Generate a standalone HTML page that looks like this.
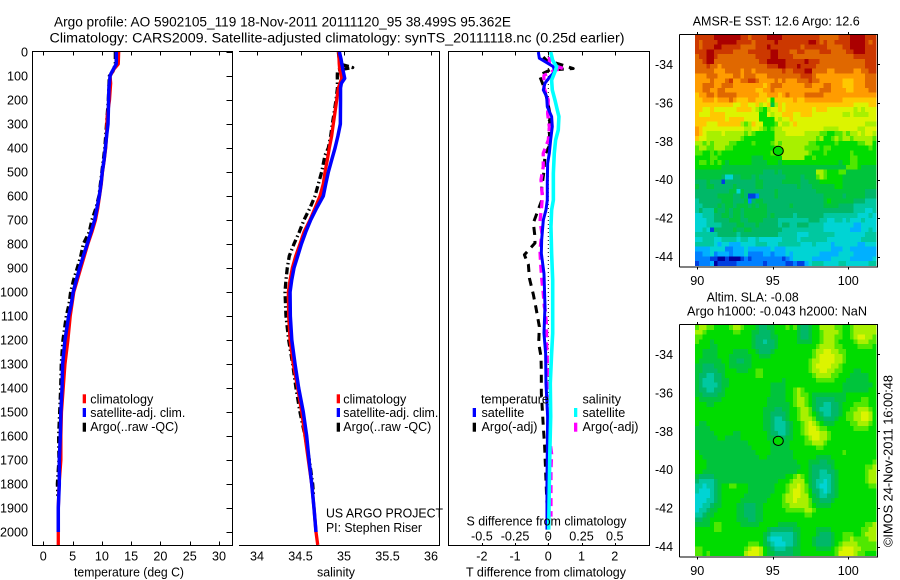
<!DOCTYPE html>
<html>
<head>
<meta charset="utf-8">
<title>Argo profile 5902105_119</title>
<style>
html,body{margin:0;padding:0;background:#fff;}
svg{display:block;font-family:"Liberation Sans",sans-serif;fill:#000;}
text{font-size:12.6px;}
.t{font-size:13.4px;}
</style>
</head>
<body>
<svg id="chart" width="900" height="580" viewBox="0 0 900 580" xmlns="http://www.w3.org/2000/svg">
<g id="maps"></g>
<g id="plots"></g>
<g id="labels">
<text class="t" x="54" y="26.5" textLength="457" lengthAdjust="spacingAndGlyphs">Argo profile: AO 5902105_119 18-Nov-2011 20111120_95 38.499S 95.362E</text>
<text class="t" x="49.5" y="42.5" textLength="575" lengthAdjust="spacingAndGlyphs">Climatology: CARS2009. Satellite-adjusted climatology: synTS_20111118.nc (0.25d earlier)</text>

<text x="74" y="576.5" textLength="110" lengthAdjust="spacingAndGlyphs">temperature (deg C)</text>
<text x="317" y="576.5" textLength="38" lengthAdjust="spacingAndGlyphs">salinity</text>
<text x="466" y="576.5" textLength="160" lengthAdjust="spacingAndGlyphs">T difference from climatology</text>
<text x="466.5" y="525.5" textLength="160" lengthAdjust="spacingAndGlyphs">S difference from climatology</text>

<rect x="82.7" y="394.3" width="3.3" height="9" fill="#ff0000"/>
<rect x="82.7" y="408" width="3.3" height="9" fill="#0000ff"/>
<rect x="82.7" y="422.7" width="3.3" height="9" fill="#000"/>
<text x="90.3" y="403.5">climatology</text>
<text x="90.3" y="417" textLength="95" lengthAdjust="spacingAndGlyphs">satellite-adj. clim.</text>
<text x="90.3" y="431" textLength="88" lengthAdjust="spacingAndGlyphs">Argo(..raw -QC)</text>

<rect x="336.7" y="394.3" width="3.3" height="9" fill="#ff0000"/>
<rect x="336.7" y="408" width="3.3" height="9" fill="#0000ff"/>
<rect x="336.7" y="422.7" width="3.3" height="9" fill="#000"/>
<text x="343.3" y="403.5">climatology</text>
<text x="343.3" y="417" textLength="95" lengthAdjust="spacingAndGlyphs">satellite-adj. clim.</text>
<text x="343.3" y="431" textLength="88" lengthAdjust="spacingAndGlyphs">Argo(..raw -QC)</text>

<text x="326" y="517.5" textLength="117" lengthAdjust="spacingAndGlyphs">US ARGO PROJECT</text>
<text x="326" y="532" textLength="96" lengthAdjust="spacingAndGlyphs">PI: Stephen Riser</text>

<text x="481" y="403.5">temperature</text>
<text x="481.5" y="417">satellite</text>
<text x="481.5" y="431">Argo(-adj)</text>
<rect x="472.7" y="408" width="3.3" height="9" fill="#0000ff"/>
<rect x="472.7" y="422.7" width="3.3" height="9" fill="#000"/>
<text x="582.5" y="403.5">salinity</text>
<text x="582.5" y="417">satellite</text>
<text x="582.5" y="431">Argo(-adj)</text>
<rect x="574" y="408" width="3.3" height="9" fill="#00ffff"/>
<rect x="574" y="422.7" width="3.3" height="9" fill="#ff00ff"/>

<text x="692.7" y="25.5" textLength="167" lengthAdjust="spacingAndGlyphs">AMSR-E SST: 12.6 Argo: 12.6</text>
<text x="706.7" y="301.5" textLength="92" lengthAdjust="spacingAndGlyphs">Altim. SLA: -0.08</text>
<text x="687" y="315.5" textLength="180" lengthAdjust="spacingAndGlyphs">Argo h1000: -0.043 h2000: NaN</text>
<text transform="translate(892.5 547) rotate(-90)" textLength="172" lengthAdjust="spacingAndGlyphs">©IMOS 24-Nov-2011 16:00:48</text>
</g>
</svg>
<script>
// ---------- profile data ----------
const depthTicks = [0,100,200,300,400,500,600,700,800,900,1000,1100,1200,1300,1400,1500,1600,1700,1800,1900,2000];
const tempTicks = [0,5,10,15,20,25,30];
const salTicks = [34,34.5,35,35.5,36];
const salTickLabels = ['34','34.5','35','35.5','36'];
const tDiffTicks = [-2,-1,0,1,2];
const sDiffTicks = [-0.5,-0.25,0,0.25,0.5];
const sDiffTickLabels = ['-0.5','-0.25','0','0.25','0.5'];

const tempClimDepth = [0,50,70,100,130,200,270,350,400,450,500,550,600,650,700,750,800,850,900,950,1000,1100,1200,1300,1400,1500,1600,1700,1800,1900,2054];
const tempClimValues = [12.87,12.8,12.1,11.4,11.5,11.3,10.9,10.8,10.65,10.4,10.1,9.9,9.6,9.3,8.9,8.3,7.6,7.0,6.4,5.8,5.2,4.6,4.2,3.7,3.4,3.1,3.0,3.0,2.7,2.56,2.56];
const tempSatDepth = [0,50,70,90,100,150,200,300,350,400,450,500,550,600,650,700,750,800,850,900,950,1000,1050,1100,1200,1300,1400,1500,1600,1700,1800,1900,2000];
const tempSatValues = [12.47,12.45,12.0,11.56,11.4,11.2,11.15,11.05,10.8,10.6,10.37,10.07,9.85,9.56,9.17,8.77,8.14,7.5,6.83,6.2,5.64,5.1,4.78,4.33,3.7,3.3,3.2,3.0,2.9,2.73,2.73,2.56,2.56];
const tempArgoDepth = [0,50,80,100,200,300,400,500,600,650,700,750,800,850,900,950,1000,1050,1100,1200,1300,1400,1500,1600,1700,1800,1850];
const tempArgoValues = [12.3,12.3,11.9,11.27,11.1,10.8,10.5,10.0,9.5,9.0,8.3,7.85,6.83,6.4,5.8,5.17,4.67,4.4,3.93,3.36,3.07,2.97,2.8,2.62,2.67,2.4,2.5];

const salClimDepth = [0,50,70,110,150,200,250,300,350,400,450,500,550,600,650,700,750,800,850,900,950,1000,1100,1200,1300,1400,1500,1600,1700,1800,1900,2000,2054];
const salClimValues = [34.94,34.945,34.95,34.973,34.935,34.916,34.897,34.877,34.858,34.831,34.808,34.782,34.762,34.724,34.667,34.609,34.54,34.494,34.445,34.406,34.38,34.36,34.364,34.38,34.417,34.468,34.514,34.552,34.59,34.629,34.655,34.678,34.698];
const salSatDepth = [0,30,70,110,130,150,200,300,350,400,450,500,550,600,650,700,750,800,850,900,950,1000,1100,1200,1300,1400,1500,1600,1700,1800,1900,2000];
const salSatValues = [34.947,34.966,34.985,35.008,34.97,34.96,34.96,34.958,34.93,34.897,34.858,34.82,34.79,34.762,34.686,34.617,34.56,34.51,34.468,34.425,34.399,34.38,34.383,34.4,34.437,34.479,34.532,34.571,34.598,34.629,34.655,34.678];
const salArgoDepth = [0,30,50,65,75,100,150,200,250,300,350,400,430,500,550,600,650,700,750,800,850,900,950,1000,1100,1200,1300,1400,1500,1600,1700,1800,1850];
const salArgoValues = [34.935,34.945,34.95,35.1,34.925,34.923,34.925,34.908,34.888,34.866,34.847,34.82,34.782,34.743,34.705,34.667,34.609,34.54,34.486,34.425,34.371,34.348,34.333,34.322,34.333,34.364,34.41,34.448,34.494,34.552,34.601,34.64,34.65];

const diffTSatDepth = [0,26,40,61,82,103,130,158,186,228,269,311,367,422,464,547,617,658,700,783,839,923,1061,1172,1256,1381,1519,1658,1797,1990];
const diffTSatValues = [-0.30,-0.27,-0.10,0.15,0.2,0.05,-0.10,-0.15,-0.05,-0.03,0.10,0.12,0.07,0.03,-0.02,-0.03,-0.03,-0.07,-0.15,-0.2,-0.21,-0.13,-0.10,-0.13,-0.08,-0.07,-0.02,-0.03,-0.04,-0.04];
const diffSSatDepth = [0,35,61,82,117,158,200,242,269,325,367,422,506,617,658,728,839,950,1061,1172,1256,1381,1519,1658,1797,1990];
const diffSSatValues = [0.018,0.033,0.063,0.05,0.025,0.03,0.05,0.068,0.08,0.075,0.055,0.045,0.038,0.038,0.025,0.02,0.025,0.033,0.033,0.033,0.025,0.015,0.018,0.012,0.008,0.003];
const diffTArgoDepth = [21,35,49,69,75,97,139,201,257,332,386,428,497,567,608,656,712,761,796,845,886,942,1011,1067,1144,1214,1269,1339,1422,1561,1644,1714,1783,1853,1908];
const diffTArgoValues = [-0.15,-0.05,0.3,0.75,0.05,-0.27,-0.15,-0.03,0.05,0.03,0.05,-0.1,-0.13,-0.2,-0.17,-0.3,-0.45,-0.41,-0.4,-0.72,-0.6,-0.57,-0.45,-0.37,-0.27,-0.29,-0.22,-0.21,-0.21,-0.15,-0.11,-0.09,-0.07,-0.05,-0.03];
const diffSArgoDepth = [21,49,69,75,98,146,201,257,313,367,422,478,533,603,644,706,754,825,880,942,1005,1061,1075,1144,1214,1276,1339,1408,1478,1540,1603,1675,1742,1811,1881,1936];
const diffSArgoValues = [0.008,0.008,0.113,0.05,-0.033,-0.033,0,-0.005,0.008,0,-0.038,-0.038,-0.055,-0.045,-0.05,-0.063,-0.048,-0.063,-0.058,-0.05,-0.038,-0.03,-0.023,-0.013,-0.013,-0.008,-0.005,-0.01,-0.008,0.003,0.008,0.025,0.02,0.02,0.02,0.02];

// ---------- map data (colour levels, 0 = coldest/lowest ... 16 = warmest/highest) ----------
const lonTicks = [90,95,100];
const latTicks = [-34,-36,-38,-40,-42,-44];
const latTickLabels = ['-34','-36','-38','-40','-42','-44'];
const argoLon = 95.362;
const argoLat = -38.499;
const argoSstLevel = 8;
const argoSlaLevel = 8;
const sstLevels = [
[15,15,15,15,15,16,16,16,16,16,16,16,15,15,14,15,15,15,15,16,16,16,16,15,15,15,15,15,15,15,15,15,15,14,14,14,14,14,15,15,15,16,16,16,16,15,15,15],
[15,14,15,15,15,15,16,16,16,16,16,15,15,15,15,14,15,15,15,15,15,16,15,15,15,15,15,15,15,15,16,16,15,14,15,14,14,15,15,15,15,16,16,16,16,15,14,15],
[15,14,15,15,15,16,16,15,15,15,15,15,14,14,14,14,15,15,15,16,15,15,15,15,15,15,15,15,14,15,15,15,15,15,15,14,14,14,14,15,15,16,16,16,16,15,15,15],
[15,15,15,16,16,15,15,15,15,15,14,14,14,14,15,15,15,15,15,15,16,16,15,15,15,14,14,15,15,14,14,14,14,15,15,15,14,14,14,14,15,15,16,16,16,15,15,15],
[14,15,15,16,16,15,14,14,14,14,14,14,14,14,14,14,15,15,15,15,16,16,15,15,15,15,14,14,14,14,14,14,14,14,14,14,14,14,14,14,14,14,15,15,15,15,15,15],
[14,14,15,16,16,14,14,14,14,14,14,14,14,14,14,14,14,15,15,16,16,16,16,16,15,15,15,15,15,16,15,15,15,14,14,14,14,14,14,14,14,14,14,14,14,15,15,15],
[14,14,14,15,14,14,13,14,14,14,14,14,14,14,14,14,14,14,14,15,15,15,16,16,15,15,15,16,15,15,15,15,14,14,14,14,14,14,14,14,14,14,14,14,14,15,15,15],
[14,14,14,14,14,13,13,13,14,14,14,14,13,14,14,13,14,14,14,14,14,14,14,15,14,14,15,15,15,16,16,14,14,14,14,13,13,14,14,14,14,14,13,13,14,14,15,15],
[13,13,13,14,14,14,13,13,13,13,14,14,13,14,14,14,13,13,13,14,14,14,14,14,14,14,14,14,15,15,15,14,13,13,13,13,13,13,13,13,13,13,13,13,13,14,14,14],
[13,13,13,13,14,13,13,13,14,15,13,13,14,14,15,15,14,13,13,13,13,14,13,14,13,13,13,14,14,14,15,14,14,13,13,13,13,13,13,12,12,12,13,13,13,14,14,14],
[13,13,14,14,14,13,13,14,14,14,13,13,13,13,13,13,13,13,12,13,14,14,14,13,13,13,13,13,13,14,14,13,13,13,14,14,13,13,13,12,12,12,13,13,13,14,14,14],
[13,13,14,14,13,13,14,14,13,13,13,13,13,13,13,13,12,12,13,13,14,13,13,13,13,13,13,13,13,13,13,13,13,14,14,14,13,13,13,13,12,12,13,13,13,13,14,14],
[12,13,13,14,14,13,14,14,14,14,14,13,13,13,13,13,13,12,12,13,13,13,12,13,14,13,13,13,13,14,14,14,14,14,13,13,13,13,13,13,13,13,13,13,13,13,13,13],
[12,12,13,13,13,12,13,13,13,14,13,12,12,12,13,13,12,12,12,11,8,12,12,12,12,12,13,12,12,13,13,13,13,13,13,13,13,13,13,12,12,12,12,12,12,12,12,12],
[12,12,12,12,12,12,12,12,12,12,11,11,12,12,11,11,12,10,11,12,7,10,12,11,12,12,12,12,12,12,12,12,12,12,12,12,12,12,12,12,12,12,11,11,11,11,12,12],
[12,12,11,11,12,11,11,11,11,11,11,12,12,12,12,11,10,9,8,10,11,11,12,11,12,12,12,12,12,12,12,11,12,12,12,11,11,11,11,11,11,11,10,11,10,11,11,11],
[12,11,11,11,12,12,12,12,11,11,11,11,11,11,11,11,11,8,8,11,10,11,11,12,12,12,11,11,12,12,12,11,11,11,11,11,11,11,11,10,10,11,10,10,10,10,11,11],
[12,12,12,12,12,12,12,12,11,12,12,12,12,11,11,11,11,8,8,8,8,11,10,11,11,12,11,11,11,11,11,11,11,11,11,11,11,11,11,11,11,11,11,11,11,11,11,11],
[12,12,12,11,11,11,12,12,12,12,12,12,10,9,10,12,11,11,8,8,8,9,11,10,10,11,12,11,11,11,11,11,11,11,11,11,11,11,11,11,11,11,11,11,11,10,10,10],
[13,12,11,11,11,11,11,11,11,11,11,11,11,10,10,11,11,10,9,8,9,10,10,11,11,11,11,11,11,11,11,11,11,11,10,10,10,10,11,11,11,11,11,10,10,11,11,11],
[13,12,11,10,10,10,10,11,10,10,10,10,10,9,10,9,8,8,8,8,8,10,10,10,11,11,11,11,11,10,10,10,10,9,9,8,8,9,9,10,9,10,10,11,10,11,11,10],
[12,11,11,10,10,10,10,10,10,10,10,10,9,8,8,8,8,8,8,8,8,10,10,10,10,10,10,10,10,10,10,10,9,10,8,8,9,10,9,10,10,9,10,10,10,10,10,9],
[10,10,9,10,9,10,10,10,10,9,9,8,8,8,8,9,8,8,8,8,9,10,9,10,10,10,10,10,10,10,9,9,8,8,8,8,8,9,8,8,8,8,8,9,9,10,10,8],
[9,10,10,9,9,10,10,10,9,9,8,8,8,8,8,8,8,8,8,8,8,9,10,10,10,10,10,10,10,9,9,9,9,8,9,9,8,8,8,8,8,8,8,8,8,8,9,8],
[9,9,8,8,9,8,9,8,8,8,8,8,8,8,8,8,8,8,8,8,9,10,10,10,10,10,10,10,10,10,9,8,8,8,9,8,8,8,8,8,8,9,8,8,8,8,8,8],
[8,8,8,8,9,9,8,8,8,8,8,8,8,8,8,7,7,7,8,8,8,8,8,10,10,10,10,10,10,8,8,9,8,8,8,8,8,8,8,8,8,9,9,8,8,8,8,8],
[8,9,9,8,9,8,9,8,7,8,8,8,8,8,8,7,7,7,7,8,8,8,7,8,8,8,8,8,8,8,8,8,8,8,8,8,8,8,7,8,8,9,9,8,8,8,8,8],
[8,8,8,8,8,8,8,7,7,7,7,7,7,7,7,7,7,7,7,7,7,7,7,7,7,7,7,7,7,7,7,7,7,7,7,7,7,7,7,7,9,9,9,8,7,7,7,7],
[7,7,7,7,7,7,7,7,7,7,7,7,7,7,7,7,7,7,6,6,6,7,6,7,7,7,7,7,7,7,7,7,10,10,9,8,8,8,9,9,7,7,7,7,7,7,7,7],
[7,7,7,7,7,7,7,6,4,4,6,6,7,7,7,6,7,6,6,6,6,6,6,6,7,7,7,7,6,7,7,7,9,10,9,8,8,8,8,7,7,7,7,7,7,7,7,7],
[6,6,6,7,6,6,6,1,6,6,6,6,6,6,6,6,7,7,6,6,6,6,6,7,7,7,7,7,6,6,7,7,7,8,8,8,8,8,8,7,7,7,7,7,7,7,7,7],
[7,6,6,7,7,6,6,6,6,6,7,6,6,6,6,6,7,7,6,6,6,6,6,6,6,6,6,7,6,6,6,7,7,7,7,7,7,8,8,7,7,7,7,7,7,7,7,7],
[6,6,6,6,6,6,6,6,6,7,7,4,7,6,6,6,6,6,6,6,6,7,6,6,6,6,6,6,6,6,6,6,7,7,7,7,7,7,7,7,7,7,7,7,7,6,6,6],
[6,6,6,6,6,6,7,7,7,7,6,6,7,6,1,1,2,6,6,6,6,7,6,6,6,6,6,6,6,6,6,6,6,6,7,7,7,7,7,6,7,7,7,7,7,6,6,6],
[5,6,6,6,6,6,6,7,7,7,6,6,6,7,2,6,7,7,6,6,6,6,6,6,6,6,6,6,6,6,6,6,6,6,7,8,7,7,7,7,7,7,6,6,6,5,5,5],
[5,5,6,6,6,6,7,6,7,7,6,7,7,7,6,7,6,7,7,6,6,6,6,6,6,7,6,6,6,6,6,6,6,6,7,7,7,7,6,6,6,6,5,5,5,5,5,5],
[5,6,5,5,5,7,6,6,7,6,7,7,6,7,7,7,7,7,7,6,6,6,6,6,6,6,6,6,6,6,6,6,6,6,6,6,6,6,6,6,6,6,5,5,5,4,4,5],
[4,4,5,5,5,6,6,7,7,6,7,7,6,7,7,7,7,7,7,6,7,6,6,6,6,6,5,6,6,6,6,6,6,6,5,5,5,5,5,5,5,5,5,4,4,4,5,4],
[4,4,4,5,5,6,6,6,6,7,7,7,6,6,7,7,7,7,6,6,6,6,5,5,5,5,5,5,5,5,6,6,6,5,5,4,4,5,5,4,5,4,4,4,5,4,4,4],
[4,4,4,5,5,5,5,6,6,6,6,7,7,6,6,6,7,6,6,6,6,6,5,6,6,5,5,6,6,6,5,5,5,5,4,4,4,4,4,4,4,4,3,3,4,4,4,4],
[4,4,5,4,1,6,6,6,6,6,7,6,6,7,7,6,6,6,6,6,6,6,6,5,5,5,5,5,5,5,5,5,5,5,4,4,4,4,4,4,4,3,3,3,4,4,5,4],
[5,5,5,5,5,5,6,6,6,6,6,5,6,6,6,6,6,6,6,6,6,6,5,5,5,5,5,4,4,4,5,5,5,5,5,5,5,4,4,4,4,4,4,4,4,5,5,5],
[4,4,5,5,5,4,4,5,5,5,5,4,5,5,4,4,5,4,4,4,4,4,4,5,5,5,5,4,5,5,5,5,5,5,5,4,4,4,4,4,4,4,4,4,5,5,5,5],
[5,5,5,5,5,4,3,4,4,3,3,3,4,4,4,4,5,5,5,4,4,4,5,5,5,5,5,5,4,4,4,5,4,4,4,4,3,4,4,4,4,4,4,3,3,4,4,4],
[3,3,3,3,4,4,4,4,2,2,3,3,3,4,3,3,3,3,3,3,4,3,3,3,4,4,4,4,4,4,4,4,4,4,4,4,3,3,3,4,4,3,3,3,3,3,3,3],
[2,2,3,3,4,2,3,3,3,2,3,3,3,4,2,2,2,2,3,3,2,3,3,3,4,3,4,4,4,4,4,4,4,3,3,3,3,3,4,4,4,4,3,3,3,3,3,3],
[2,2,2,2,1,1,0,0,1,0,0,0,1,2,1,2,2,2,2,2,2,2,2,1,2,3,4,4,4,4,4,3,3,3,3,3,4,4,4,4,4,3,3,3,3,3,3,4],
[1,2,2,2,3,0,1,1,1,1,1,2,2,2,2,2,2,2,1,2,2,2,2,2,1,1,2,1,1,3,4,5,5,5,4,4,4,4,5,5,4,4,4,4,4,4,5,5]
];
const slaLevels = [
[9,10,10,9,9,8,8,8,8,9,10,10,9,8,8,8,7,6,6,7,7,8,8,8,9,8,9,7,6,6,7,8,8,10,10,10,10,9,9,8,8,9,10,10,10,10,10,10],
[10,10,9,8,8,8,8,8,8,8,9,9,8,8,8,7,7,6,6,6,7,8,8,8,8,8,8,7,6,6,7,8,8,9,10,10,10,10,9,8,8,9,10,10,10,10,10,10],
[9,9,8,8,8,8,8,8,8,8,8,8,8,8,8,7,6,6,6,6,7,7,8,8,8,8,8,7,6,6,7,8,8,9,10,10,10,9,9,8,8,9,10,11,11,10,10,9],
[9,8,8,8,7,8,8,8,8,8,8,8,8,8,8,7,6,6,5,6,6,7,8,8,8,8,8,7,7,7,7,8,8,9,10,10,10,9,8,8,8,8,9,10,10,10,9,9],
[8,8,8,8,7,7,8,8,8,8,8,8,8,8,8,7,6,6,6,6,6,7,8,8,8,8,8,8,8,8,8,8,9,10,10,10,10,9,9,8,8,8,8,9,9,9,9,8],
[8,8,7,7,7,7,8,8,8,8,7,7,7,7,8,8,7,6,6,6,7,8,8,8,8,8,8,8,8,8,8,9,10,10,11,11,10,10,9,9,8,8,8,8,8,8,8,8],
[8,8,7,7,7,7,8,8,8,7,7,7,7,7,7,8,8,7,7,7,8,8,8,8,8,8,8,8,8,8,8,9,10,11,11,11,11,10,10,9,8,8,8,8,8,8,8,8],
[8,7,7,7,7,7,7,8,8,7,7,6,6,7,7,8,8,8,8,8,8,8,8,8,8,8,8,8,8,8,9,10,10,11,11,11,11,10,10,9,8,8,8,8,8,8,8,8],
[7,7,6,6,6,7,7,7,8,7,7,7,7,7,7,8,8,8,8,8,8,8,8,8,8,8,8,8,8,8,9,10,11,11,11,11,10,10,9,8,8,8,8,8,8,8,8,8],
[7,7,6,6,6,6,7,7,8,8,8,7,7,7,8,8,9,9,8,8,8,8,8,8,8,8,8,8,8,8,9,10,10,11,11,10,10,9,9,8,8,8,7,7,8,8,8,8],
[7,6,6,5,5,6,6,7,8,8,8,8,8,8,8,8,9,9,8,8,8,8,8,8,8,8,8,8,8,8,8,9,10,10,10,10,9,9,8,8,8,7,7,7,7,7,8,8],
[7,6,5,5,5,6,6,7,7,8,8,8,8,8,8,8,8,8,8,8,8,8,8,7,8,8,8,8,8,8,8,8,9,9,9,9,9,8,8,8,7,7,7,7,7,7,8,8],
[7,6,5,5,5,5,6,7,7,8,8,8,8,8,8,8,8,8,8,8,7,7,7,7,8,8,8,8,8,8,8,8,8,8,8,8,8,8,8,7,7,7,7,7,7,7,7,8],
[7,6,6,5,5,6,6,7,8,8,8,8,8,8,8,8,8,8,8,8,7,7,7,7,8,8,9,10,9,8,8,8,8,8,8,8,8,8,8,7,7,7,7,7,7,7,8,8],
[7,7,6,6,6,6,7,7,8,8,8,8,8,8,8,8,8,8,8,8,7,7,7,7,8,8,9,10,9,9,8,7,7,7,7,7,7,7,7,7,8,8,8,8,8,8,8,8],
[8,7,7,7,7,7,7,8,8,8,8,8,8,8,8,8,8,8,8,7,7,7,7,7,8,8,9,10,10,9,8,7,6,6,6,6,6,7,7,7,8,8,8,8,9,9,8,8],
[8,8,8,7,7,8,8,8,8,8,8,8,8,8,8,8,8,8,8,7,7,7,7,7,7,8,9,10,10,9,8,7,6,6,5,5,6,6,7,8,8,8,9,9,9,9,8,8],
[8,8,8,8,8,8,8,8,8,8,8,8,8,8,8,8,8,8,7,7,7,6,6,7,7,8,8,9,10,10,9,7,6,5,5,5,6,6,7,8,8,9,9,10,10,10,9,8],
[8,8,8,8,8,8,8,8,8,8,8,8,8,8,8,8,8,8,7,7,6,6,6,6,7,8,8,9,10,10,9,8,7,6,5,5,6,6,7,8,9,9,10,10,11,11,10,8],
[8,8,8,8,8,8,8,8,8,8,8,8,8,8,8,8,8,8,7,7,6,5,5,6,7,8,8,9,10,10,10,9,7,7,6,6,6,7,8,8,9,9,10,10,11,11,10,8],
[8,7,7,8,8,8,8,8,8,8,8,8,8,8,8,8,8,8,7,7,6,5,5,5,6,7,8,8,9,10,11,10,9,8,7,7,7,8,8,8,8,9,9,10,10,10,9,8],
[7,7,7,7,8,8,8,8,8,8,8,8,8,8,8,8,8,8,7,7,6,5,5,5,6,7,8,8,9,10,11,11,10,9,9,8,8,8,8,8,8,8,9,9,9,9,8,8],
[7,7,7,7,7,8,8,8,8,8,7,7,8,8,8,8,8,8,8,7,6,6,5,5,6,7,8,8,9,10,11,11,11,10,10,9,8,8,8,8,8,8,8,8,8,8,8,8],
[7,7,7,7,7,7,8,8,7,7,7,7,8,8,8,8,8,8,8,7,7,6,6,6,7,7,8,8,8,9,10,11,11,10,10,9,8,8,8,8,8,8,8,8,8,8,8,8],
[7,7,7,7,7,7,7,7,7,7,7,7,7,7,8,8,8,8,8,8,7,7,7,7,7,8,8,8,8,9,9,10,10,10,9,8,8,8,8,8,8,8,8,8,8,8,8,8],
[7,7,7,7,7,7,7,7,7,7,7,7,7,7,7,8,8,8,8,8,7,7,7,7,7,8,8,8,8,8,8,8,9,9,8,8,8,8,8,8,8,8,8,8,8,8,8,8],
[8,7,7,7,7,7,7,7,7,7,7,7,7,7,7,7,8,8,8,8,7,7,7,7,7,7,8,8,8,8,8,8,8,8,8,8,8,8,8,9,8,8,8,8,8,8,8,8],
[8,8,7,7,7,7,7,7,7,7,7,7,7,7,7,7,7,8,8,7,7,7,7,7,7,7,8,8,8,8,8,8,7,7,7,7,8,8,8,8,8,8,8,8,8,8,8,8],
[8,8,8,7,7,7,7,7,7,7,7,7,7,7,7,7,7,7,7,7,7,7,7,7,7,7,7,8,8,8,7,7,7,6,6,7,7,8,8,8,8,8,8,8,8,8,8,9],
[8,8,8,7,7,7,7,7,7,7,7,7,7,7,7,7,7,7,7,7,7,7,7,7,7,7,7,7,8,8,7,6,6,6,6,6,7,8,8,8,8,8,8,8,8,9,9,10],
[8,8,7,7,7,7,7,7,7,7,7,7,7,7,7,7,7,7,7,7,7,7,7,7,7,7,7,8,8,8,7,6,6,5,5,6,6,7,8,8,8,8,8,8,8,9,10,10],
[7,6,6,6,6,7,7,7,7,7,7,7,7,7,7,7,7,7,7,7,7,7,7,7,8,8,9,10,9,8,7,6,6,5,5,5,6,7,8,8,8,8,8,8,8,9,10,10],
[6,5,5,5,5,6,7,7,7,7,7,7,7,7,7,7,7,7,7,7,7,7,8,8,8,9,10,10,10,8,7,6,5,5,4,5,6,7,8,8,8,8,8,8,8,9,10,10],
[5,5,4,5,5,6,7,8,8,9,9,8,8,8,7,7,7,7,7,7,7,8,8,8,9,10,10,11,10,9,7,6,5,4,4,5,6,7,8,8,8,8,8,8,8,8,9,9],
[5,4,4,4,5,6,7,8,8,8,8,8,8,8,7,7,7,7,7,7,7,8,8,8,9,10,11,11,10,9,8,6,6,5,4,5,6,7,8,8,8,8,8,8,8,8,8,8],
[4,4,4,4,5,6,7,8,8,8,8,8,8,7,7,7,7,7,7,7,8,8,8,9,10,10,11,11,10,10,8,7,6,5,5,6,6,7,8,8,8,8,8,8,8,8,8,8],
[4,4,4,5,5,6,7,8,8,8,8,8,7,7,7,7,7,7,7,8,8,8,8,9,10,10,11,10,10,10,9,7,7,6,6,6,7,8,8,8,8,8,8,8,8,8,8,8],
[4,4,5,5,6,7,7,8,8,8,8,7,7,6,6,6,7,7,8,8,8,8,8,9,9,10,10,10,10,10,9,8,7,7,7,7,8,8,8,8,8,8,8,8,8,8,8,8],
[4,5,5,6,7,7,8,8,8,8,8,7,7,6,6,6,7,7,8,8,8,8,8,8,9,9,9,9,9,10,10,9,8,8,8,8,8,8,8,8,8,8,8,8,8,8,8,8],
[5,5,6,7,7,8,8,8,8,8,8,7,7,6,6,6,7,7,8,8,8,8,8,8,8,8,8,8,8,9,9,8,8,8,8,8,8,8,8,8,8,8,8,8,8,8,8,8],
[6,6,7,7,8,8,8,8,8,8,8,7,7,7,6,6,7,7,8,8,8,8,8,8,8,8,8,8,8,8,8,8,8,8,8,8,8,8,8,8,8,8,8,8,8,8,8,8],
[7,7,7,7,8,9,9,8,8,8,8,8,7,7,7,7,7,8,8,8,8,8,7,7,7,7,7,8,8,8,8,8,8,8,8,8,8,8,8,8,8,8,8,8,8,9,9,10],
[8,8,8,8,8,9,9,8,8,8,8,8,8,8,8,8,8,8,8,7,6,6,6,6,6,6,7,7,8,8,8,8,7,7,7,7,8,8,8,8,8,8,8,8,9,9,10,10],
[8,8,8,8,8,8,8,8,8,8,8,8,8,8,8,8,8,8,7,6,5,5,5,5,5,5,6,7,8,8,8,8,7,6,6,6,7,8,8,9,9,9,8,8,9,10,10,10],
[8,8,8,8,8,8,8,8,8,8,8,8,8,8,8,8,8,8,7,5,4,4,4,5,5,5,6,7,8,8,8,7,6,6,6,6,7,8,8,9,9,10,9,9,9,9,10,10],
[8,8,8,8,8,8,8,8,8,8,8,8,8,8,9,9,9,8,7,6,5,4,4,4,5,5,6,7,8,8,8,7,6,6,6,6,7,8,9,10,10,10,10,9,9,9,9,9],
[9,9,8,8,8,8,8,8,8,8,8,8,8,9,10,11,11,10,8,7,6,5,5,5,6,6,7,7,8,8,8,8,7,7,7,7,8,9,10,11,11,11,10,10,9,9,9,9],
[9,9,8,9,8,8,8,8,8,8,8,8,8,10,11,11,11,10,8,7,7,6,6,6,6,6,7,7,8,8,8,8,8,8,8,8,8,9,11,11,11,11,10,9,9,8,8,8]
];

// ---------- helpers ----------
const NS = 'http://www.w3.org/2000/svg';
const plots = document.getElementById('plots');
const maps = document.getElementById('maps');
function add(parent, tag, attrs, content) {
  const el = document.createElementNS(NS, tag);
  for (const k in attrs) el.setAttribute(k, attrs[k]);
  if (content !== undefined) el.textContent = content;
  parent.appendChild(el);
  return el;
}
function levelColor(v) {
  const ramp = ['#0000a0','#0040e0','#0080ff','#00b0ff','#00d4d4','#00c8a0','#00b868','#00c43c','#00dc00','#50e800','#a8f000','#dcf400','#ffc800','#ff9c00','#e06800','#cc3800','#aa0000'];
  return ramp[Math.max(0, Math.min(ramp.length - 1, Math.round(v)))];
}
const yDepth = d => 52 + 0.24 * d;
const xTemp = t => 43.3 + 5.857 * t;
const xSal = s => 257 + 87 * (s - 34);
const xDiffT = t => 548.3 + 33.2 * t;
const xDiffS = s => 548.3 + 132.8 * s;

function seg(parent, x1, y1, x2, y2) {
  return add(parent, 'line', {x1, y1, x2, y2, stroke: '#000', 'stroke-width': 1, 'shape-rendering': 'crispEdges'});
}
function series(parent, depth, values, xf, color, width, dash) {
  const pts = depth.map((d, i) => xf(values[i]).toFixed(2) + ',' + yDepth(d).toFixed(2)).join(' ');
  const attrs = {points: pts, fill: 'none', stroke: color, 'stroke-width': width, 'stroke-linejoin': 'round'};
  if (dash) attrs['stroke-dasharray'] = dash;
  return add(parent, 'polyline', attrs);
}

// ---------- temperature panel ----------
const tempAxis = add(plots, 'g', {});


const tempFrame = add(tempAxis, 'rect', {x: 32.5, y: 51.5, width: 200, height: 494, fill: 'none', stroke: '#000', 'shape-rendering': 'crispEdges'});


depthTicks.forEach(d => {
  const y = Math.round(yDepth(d)) + 0.5;
  const rt = seg(tempAxis, 226.5, y, 232.5, y);
  
  
  const lb = add(tempAxis, 'text', {x: 28, y: yDepth(d) + 4.5, 'text-anchor': 'end'}, String(d));
  
  
});
tempTicks.forEach(t => {
  const x = Math.round(xTemp(t)) + 0.5;
  const top = seg(tempAxis, x, 51.5, x, 55.5);
  
  
  const bot = seg(tempAxis, x, 541.5, x, 545.5);
  
  
  const lb = add(tempAxis, 'text', {x: xTemp(t), y: 560.5, 'text-anchor': 'middle'}, String(t));
  
  
});
const tempArgoLine = series(plots, tempArgoDepth, tempArgoValues, xTemp, '#000', 3.3, '7 3 1.5 3');


const tempClimLine = series(plots, tempClimDepth, tempClimValues, xTemp, '#ff0000', 3.3);


const tempSatLine = series(plots, tempSatDepth, tempSatValues, xTemp, '#0000ff', 3.5);



// ---------- salinity panel ----------
const salAxis = add(plots, 'g', {});


const salTop = seg(salAxis, 239, 51.5, 440, 51.5);


const salBottom = seg(salAxis, 239, 545.5, 440, 545.5);


const salRight = seg(salAxis, 439.5, 51.5, 439.5, 545.5);


salTicks.forEach((s, i) => {
  const x = Math.round(xSal(s)) + 0.5;
  const top = seg(salAxis, x, 51.5, x, 55.5);
  
  
  const lb = add(salAxis, 'text', {x: xSal(s), y: 560.5, 'text-anchor': 'middle'}, salTickLabels[i]);
  
  
});
const salArgoLine = series(plots, salArgoDepth, salArgoValues, xSal, '#000', 3.3, '7 3 1.5 3');


const salClimLine = series(plots, salClimDepth, salClimValues, xSal, '#ff0000', 3.3);


const salSatLine = series(plots, salSatDepth, salSatValues, xSal, '#0000ff', 3.5);



// ---------- difference panel ----------
const diffAxis = add(plots, 'g', {});


const diffFrame = add(diffAxis, 'rect', {x: 448.5, y: 51.5, width: 201, height: 494, fill: 'none', stroke: '#000', 'shape-rendering': 'crispEdges'});


const zeroLine = add(diffAxis, 'line', {x1: xDiffT(0), y1: 52, x2: xDiffT(0), y2: 545, stroke: '#000', 'stroke-width': 1, 'stroke-dasharray': '1 3'});


tDiffTicks.forEach(t => {
  const x = Math.round(xDiffT(t)) + 0.5;
  const top = seg(diffAxis, x, 51.5, x, 55.5);
  
  
  const bot = seg(diffAxis, x, 543, x, 545.5);
  
  
  const lb = add(diffAxis, 'text', {x: xDiffT(t), y: 560.5, 'text-anchor': 'middle'}, String(t));
  
  
});
const diffTArgoLine = series(plots, diffTArgoDepth, diffTArgoValues, xDiffT, '#000', 3, '8 6');


const diffSArgoLine = series(plots, diffSArgoDepth, diffSArgoValues, xDiffS, '#ff00ff', 3.3, '8 5');


const diffTSatLine = series(plots, diffTSatDepth, diffTSatValues, xDiffT, '#0000ff', 3);


const diffSSatLine = series(plots, diffSSatDepth, diffSSatValues, xDiffS, '#00ffff', 3.6);


sDiffTicks.forEach((s, i) => {
  const lb = add(plots, 'text', {x: xDiffS(s), y: 540.5, 'text-anchor': 'middle'}, sDiffTickLabels[i]);
  
  
});

// ---------- maps ----------
function drawMap(grid, top, bottom, y34, tickLabelY, markerLevel, mapName) {
  const xLon = lon => 697.3 + 15.1 * (lon - 90);
  const yLat = lat => y34 + 19.24 * (-34 - lat);
  const lon0 = 89.85, latTop = -34 + (y34 - top) / 19.24, step = 0.25;
  const g = add(maps, 'g', {'shape-rendering': 'crispEdges'});
  
  
  grid.forEach((row, r) => {
    row.forEach((v, c) => {
      const x0 = xLon(lon0 + c * step), x1 = xLon(lon0 + (c + 1) * step);
      const y0 = yLat(latTop - r * step), y1 = Math.min(yLat(latTop - (r + 1) * step), bottom - 1);
      const cell = add(g, 'rect', {x: x0.toFixed(2), y: y0.toFixed(2), width: (x1 - x0 + 0.4).toFixed(2), height: (y1 - y0 + 0.4).toFixed(2), fill: levelColor(v)});
      
      
    });
  });
  const frame = add(maps, 'g', {});
  
  
  const a = seg(frame, 679.5, top - 0.5, 878, top - 0.5);
  
  
  const b = seg(frame, 679.5, bottom + 0.5, 878, bottom + 0.5);
  
  
  const l = seg(frame, 679.5, top - 0.5, 679.5, bottom + 0.5);
  
  
  const rb = seg(frame, 877.5, top - 0.5, 877.5, bottom + 0.5);
  
  
  lonTicks.forEach(lon => {
    const x = Math.round(xLon(lon)) + 0.5;
    const t1 = seg(frame, x, top - 3, x, top);
    
    
    const t3 = seg(frame, x, bottom + 0.5, x, bottom + 3);
    
    
    const lb = add(frame, 'text', {x: xLon(lon), y: tickLabelY, 'text-anchor': 'middle'}, String(lon));
    
    
  });
  latTicks.forEach((lat, i) => {
    const y = Math.round(yLat(lat)) + 0.5;
    const t2 = seg(frame, 877.5, y, 880, y);
    
    
    const lb = add(frame, 'text', {x: 655, y: yLat(lat) + 4.5, textLength: 18, lengthAdjust: 'spacingAndGlyphs'}, latTickLabels[i]);
    
    
  });
  const mk = add(frame, 'ellipse', {cx: xLon(argoLon).toFixed(2), cy: yLat(argoLat).toFixed(2), rx: 5, ry: 4.6, fill: levelColor(markerLevel), stroke: '#000', 'stroke-width': 1});
  
  
}
drawMap(sstLevels, 35, 266.5, 64.3, 285, argoSstLevel, 'sst');
drawMap(slaLevels, 325, 556.5, 354.3, 575, argoSlaLevel, 'sla');
</script>
</body>
</html>
